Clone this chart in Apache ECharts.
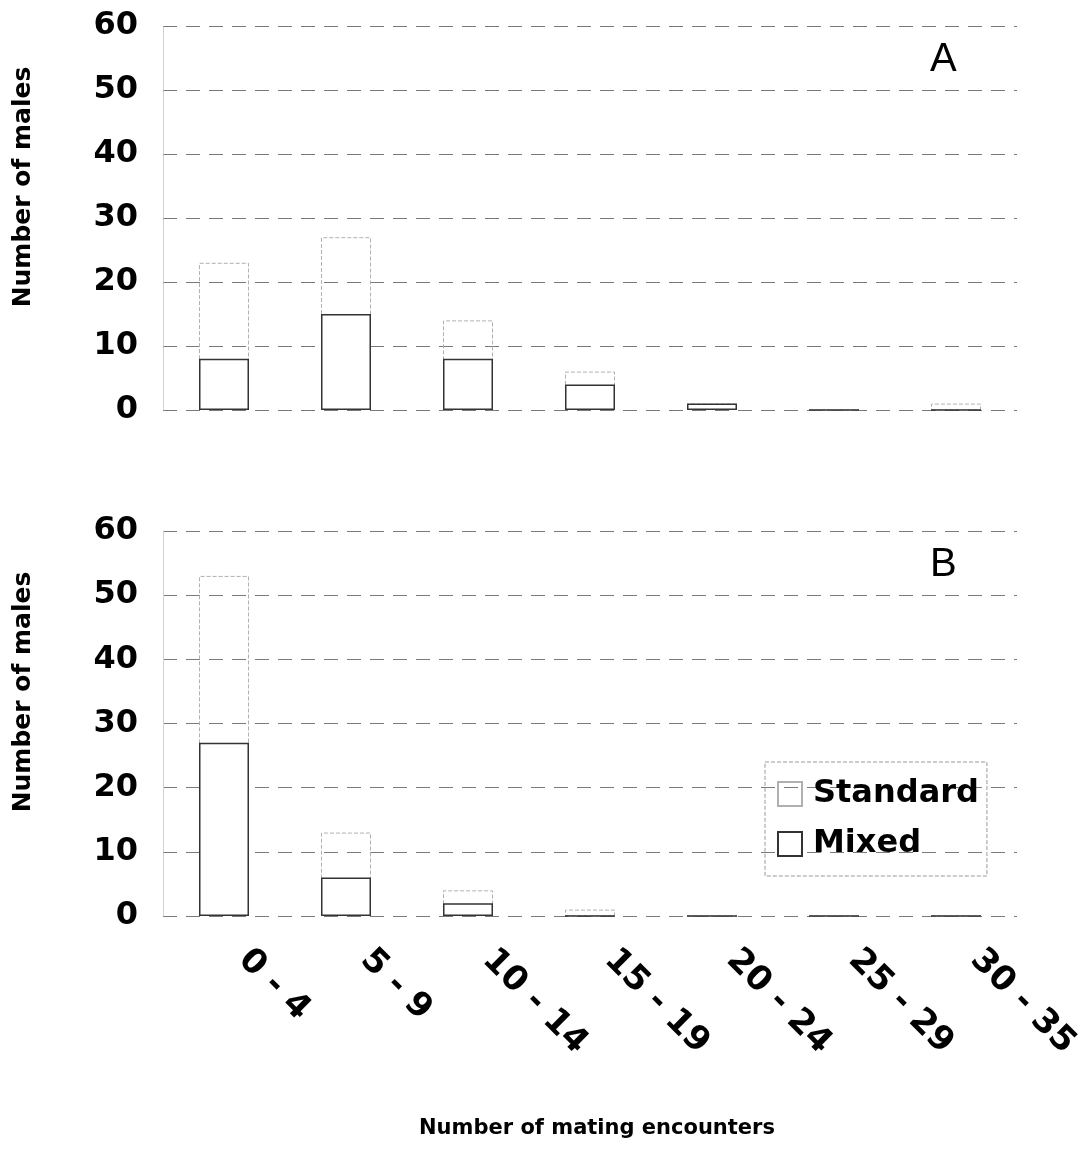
<!DOCTYPE html>
<html><head><meta charset="utf-8">
<script src="https://cdn.jsdelivr.net/npm/echarts@6/dist/echarts.min.js"></script>
<style>html,body{margin:0;padding:0;background:#fff}#c{width:1089px;height:1171px}</style>
</head><body><div id="c"></div>
<script>
const categories = ['0 - 4', '5 - 9', '10 - 14', '15 - 19', '20 - 24', '25 - 29', '30 - 35'];
const standardA = [23, 27, 14, 6, 1, 0, 1];
const mixedA = [8, 15, 8, 4, 1, 0, 0];
const standardB = [53, 13, 4, 1, 0, 0, 0];
const mixedB = [27, 6, 2, 0, 0, 0, 0];
const yMin = 0, yMax = 60, yStep = 10;
const panelLetters = ['A', 'B'];
const yTitle = 'Number of males';
const xTitle = 'Number of mating encounters';
const seriesNames = ['Standard', 'Mixed'];

const FONT = 'DejaVu Sans';
const chart = echarts.init(document.getElementById('c'), null, {renderer: 'canvas'});

const gridLine = {show: true, lineStyle: {color: '#7a7a7a', width: 1, type: [14, 9]}};
function yAx(idx) {
  return {
    type: 'value', gridIndex: idx, min: yMin, max: yMax, interval: yStep,
    axisLine: {show: true, lineStyle: {color: '#c8c8c8', type: 'dotted'}},
    axisTick: {show: false},
    splitLine: gridLine,
    axisLabel: {fontFamily: FONT, fontWeight: 'bold', fontSize: 32, color: '#000', margin: 25}
  };
}
function xAx(idx, showLabels) {
  return {
    type: 'category', gridIndex: idx, data: categories,
    axisLine: {show: false}, axisTick: {show: false}, splitLine: {show: false},
    axisLabel: showLabels ? {fontFamily: FONT, fontWeight: 'bold', fontSize: 34, color: '#000',
      rotate: -45, margin: 19, interval: 0, padding: [0, 0, 0, 28]} : {show: false}
  };
}
const stdStyle = {color: 'rgba(255,255,255,0)', borderColor: '#b0b0b0', borderWidth: 1, borderType: 'dashed'};
const mixStyle = {color: '#ffffff', borderColor: '#333333', borderWidth: 1.5};

const option = {
  backgroundColor: '#fff',
  animation: false,
  grid: [
    {left: 163, width: 854, top: 26, height: 384},
    {left: 163, width: 854, top: 531, height: 385}
  ],
  xAxis: [xAx(0, false), xAx(1, true)],
  yAxis: [yAx(0), yAx(1)],
  legend: {
    data: seriesNames, orient: 'vertical', left: 765, top: 762,
    padding: [16, 8, 16, 12], itemGap: 18, itemWidth: 24, itemHeight: 24, icon: 'rect',
    borderColor: '#999', borderWidth: 1, borderType: 'dashed',
    textStyle: {fontFamily: FONT, fontWeight: 'bold', fontSize: 32, color: '#000', padding: [0, 0, 0, 6]}
  },
  series: [
    {name: seriesNames[0], type: 'bar', xAxisIndex: 0, yAxisIndex: 0, data: standardA, barWidth: 50, barGap: '-100%', itemStyle: stdStyle, z: 2},
    {name: seriesNames[1], type: 'bar', xAxisIndex: 0, yAxisIndex: 0, data: mixedA, barWidth: 50, barGap: '-100%', itemStyle: mixStyle, z: 3},
    {name: seriesNames[0], type: 'bar', xAxisIndex: 1, yAxisIndex: 1, data: standardB, barWidth: 50, barGap: '-100%', itemStyle: stdStyle, z: 2},
    {name: seriesNames[1], type: 'bar', xAxisIndex: 1, yAxisIndex: 1, data: mixedB, barWidth: 50, barGap: '-100%', itemStyle: mixStyle, z: 3}
  ],
  graphic: [
    {type: 'text', left: 930, top: 40, style: {text: panelLetters[0], fontFamily: 'Liberation Sans', fontSize: 40, fill: '#000'}},
    {type: 'text', left: 930, top: 545, style: {text: panelLetters[1], fontFamily: 'Liberation Sans', fontSize: 40, fill: '#000'}},
    {type: 'text', x: 23, y: 187, rotation: Math.PI / 2, style: {text: yTitle, fontFamily: FONT, fontWeight: 'bold', fontSize: 25, fill: '#000', align: 'center', verticalAlign: 'middle'}},
    {type: 'text', x: 23, y: 692, rotation: Math.PI / 2, style: {text: yTitle, fontFamily: FONT, fontWeight: 'bold', fontSize: 25, fill: '#000', align: 'center', verticalAlign: 'middle'}},
    {type: 'text', x: 597, y: 1129, style: {text: xTitle, fontFamily: FONT, fontWeight: 'bold', fontSize: 21, fill: '#000', align: 'center', verticalAlign: 'middle'}}
  ]
};
chart.setOption(option);
</script>
</body></html>
